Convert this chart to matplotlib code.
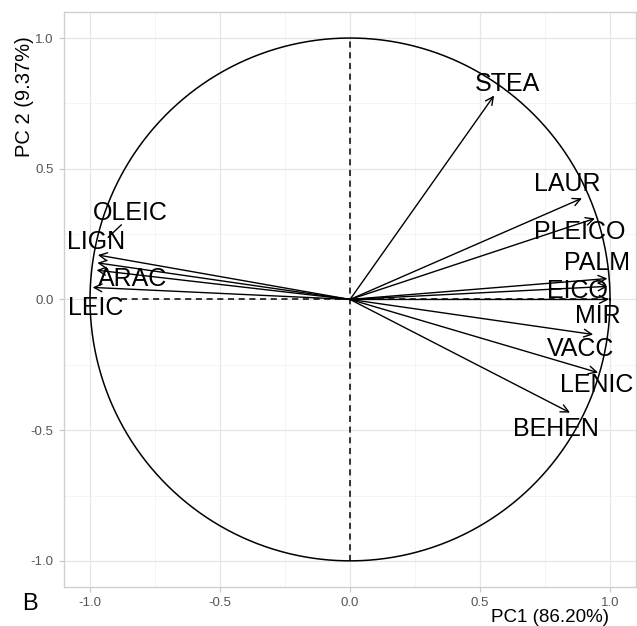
import matplotlib.pyplot as plt
import numpy as np

plt.rcParams['font.family'] = ['Liberation Sans', 'DejaVu Sans']

# variable loadings (arrow tips)
names = ['STEA', 'LAUR', 'PLEICO', 'PALM', 'EICO', 'MIR', 'VACC', 'LENIC', 'BEHEN',
         'OLEIC', 'LIGN', 'ARAC', 'LEIC']
pc1 = [0.554, 0.892, 0.942, 0.99, 0.99, 0.995, 0.935, 0.954, 0.846,
       -0.97, -0.972, -0.975, -0.99]
pc2 = [0.78, 0.387, 0.31, 0.08, 0.05, 0.0, -0.134, -0.28, -0.433,
       0.17, 0.14, 0.112, 0.046]
# where the labels sit (repelled)
lab_x = [0.604, 0.835, 0.885, 0.95, 0.873, 0.954, 0.888, 0.95, 0.792,
         -0.846, -0.977, -0.835, -0.98]
lab_y = [0.824, 0.44, 0.257, 0.138, 0.034, -0.065, -0.188, -0.326, -0.494,
         0.33, 0.218, 0.077, -0.034]

ticks = [-1.0, -0.5, 0.0, 0.5, 1.0]
minor = [-0.75, -0.25, 0.25, 0.75]

fig = plt.figure(figsize=(6.37, 6.26), dpi=100)
ax = fig.add_axes([0.1005, 0.0623, 0.898, 0.9187])

ax.set_xlim(-1.1, 1.1)
ax.set_ylim(-1.1, 1.1)

# grid like ggplot theme_light
ax.set_xticks(ticks)
ax.set_yticks(ticks)
ax.set_xticks(minor, minor=True)
ax.set_yticks(minor, minor=True)
ax.grid(True, which='major', color='#E6E6E6', lw=0.9)
ax.grid(True, which='minor', color='#F2F2F2', lw=0.6)
ax.set_axisbelow(True)
ax.tick_params(which='major', length=3.5, color='#C8C8C8', labelsize=9.5,
               labelcolor='#555555', pad=4)
ax.tick_params(which='minor', length=0)
ax.set_xticklabels(['-1.0', '-0.5', '0.0', '0.5', '1.0'])
ax.set_yticklabels(['-1.0', '-0.5', '0.0', '0.5', '1.0'])
for s in ax.spines.values():
    s.set_color('#CFCFCF')
    s.set_linewidth(1.0)

# correlation circle
t = np.linspace(0, 2 * np.pi, 400)
ax.plot(np.cos(t), np.sin(t), color='black', lw=1.1)

# dashed reference lines
ax.plot([0, 0], [-1, 1], color='black', lw=1.1, ls=(0, (4, 3)))
ax.plot([-0.88, 1], [0, 0], color='black', lw=1.1, ls=(0, (4, 3)))

for i in range(len(names)):
    ax.annotate('', xy=(pc1[i], pc2[i]), xytext=(0, 0),
                arrowprops=dict(arrowstyle='->', color='black', lw=1.0,
                                mutation_scale=14, shrinkA=0, shrinkB=0))
    ax.text(lab_x[i], lab_y[i], names[i], fontsize=18, ha='center', va='center',
            color='black')

# repel segment for OLEIC
ax.plot([-0.88, -0.93], [0.285, 0.238], color='black', lw=1.0)

fig.text(25 / 637, 1 - 97 / 626, 'PC 2 (9.37%)', rotation=90, fontsize=14.5,
         ha='center', va='center')
fig.text(609 / 637, 1 - 609 / 626, 'PC1 (86.20%)', fontsize=13.5,
         ha='right', va='top')
fig.text(30 / 637, 1 - 604 / 626, 'B', fontsize=17, ha='center', va='center')

fig.savefig('out.png', dpi=100)
